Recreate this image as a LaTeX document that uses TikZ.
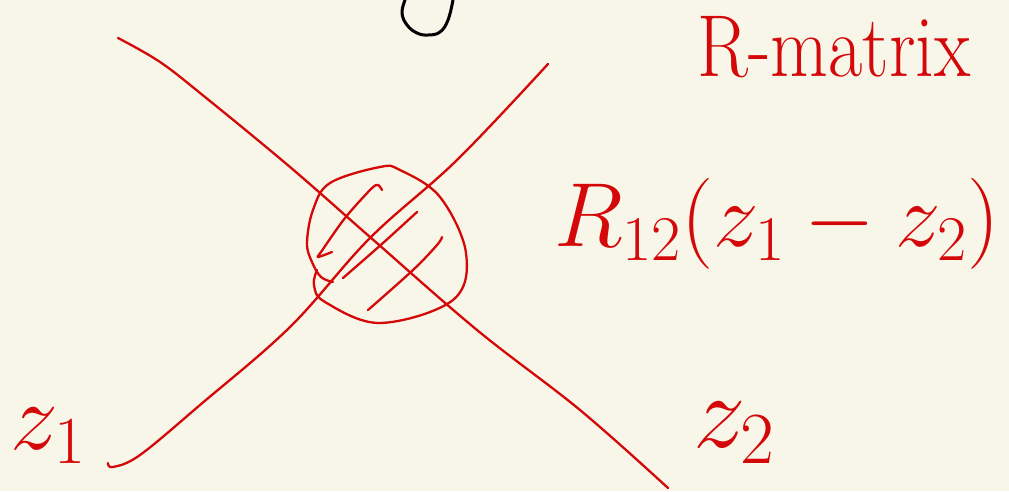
\RequirePackage{fix-cm}
\documentclass[tikz,border=0pt]{standalone}
\usepackage{xcolor}
\definecolor{bg}{RGB}{248,246,233}
\definecolor{ink}{RGB}{212,8,8}
\begin{document}
\begin{tikzpicture}[x=1pt,y=-1pt,
  stroke/.style={draw=ink, line width=2.3pt, line cap=round, line join=round},
  lbl/.style={text=ink, inner sep=0pt, anchor=center}]
\fill[bg] (0,0) rectangle (1009,491);
\useasboundingbox (0,0) rectangle (1009,491);
% black fragment at top
\draw[black, line width=3pt, line cap=round] plot[smooth, tension=0.7] coordinates {(405,0) (402,13) (407,25) (417,33) (428,35) (440,32) (448,20) (453,0)};
% named end points
\coordinate (a1) at (118,38);
\coordinate (a2) at (668,488);
\coordinate (b1) at (108,463);
\coordinate (b2) at (548,64);
% line z2
\draw[stroke] plot[smooth, tension=0.6] coordinates {(a1) (160,62) (205,97) (290,167) (370,237) (477,330) (580,410) (a2)};
% line z1
\draw[stroke] plot[smooth, tension=0.6] coordinates {(b1) (113,467) (140,455) (200,405) (290,327) (370,238) (457,160) (b2)};
% circle
\draw[stroke] plot[smooth, tension=0.6] coordinates {(317,270) (314,285) (325,302) (380,323) (453,300) (466,253) (440,197) (400,170) (380,167) (330,183) (313,210) (307,243) (312,262) (321,277) (333,282)};
% hatching
\draw[stroke] plot[smooth, tension=0.5] coordinates {(382,190) (378,185) (371,189) (345,218) (321,252) (318,257) (332,252)};
\draw[stroke] plot[smooth, tension=0.6] coordinates {(417,212) (383,243) (343,278)};
\draw[stroke] plot[smooth, tension=0.6] coordinates {(442,237) (437,245) (413,270) (368,310)};
% labels
\node[lbl] (title) at (834,47) {\scalebox{0.85}[1]{\fontsize{88}{88}\selectfont R-matrix}};
\node[lbl] (rmat) at (777,224) {\fontsize{91}{91}\selectfont $R_{12}(z_1-z_2)$};
\node[lbl] (z1) at (48,436) {\fontsize{96}{96}\selectfont $z_1$};
\node[lbl] (z2) at (734,433) {\fontsize{105}{105}\selectfont $z_2$};
\end{tikzpicture}
\end{document}
